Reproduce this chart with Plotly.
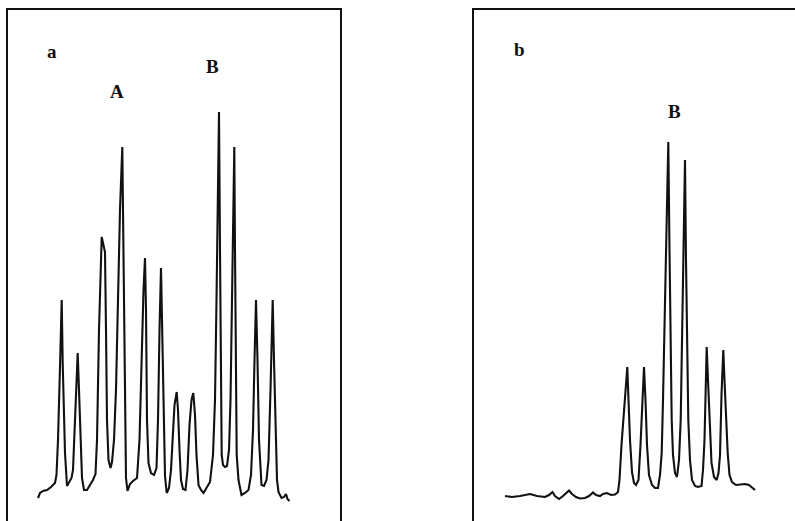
import plotly.graph_objects as go

# Panel a chromatogram (x: chart distance, y: detector response)
a_x = [30, 32, 35, 39, 43, 47, 48.5, 50, 52, 53.7, 54.7, 56, 57, 59, 61, 63.5, 65, 67, 68.5, 69.7,
       71, 72.5, 74, 76, 79, 82, 85, 87.5, 89, 91, 93.7, 95, 97, 98, 99, 100.5, 102.5, 104, 106, 108,
       110, 112, 114.3, 115.5, 116.5, 118, 119.5, 122, 125, 129, 131.5, 133.5, 135.5, 137, 138, 139,
       140.5, 143, 146, 148.5, 150, 151.5, 153, 154, 155.5, 157, 158.7, 161, 163, 164.5, 166.5, 168.7,
       170, 171.5, 173, 175, 177.5, 179.5, 181.5, 183.5, 185.3, 187, 188.5, 190.5, 193, 195.5, 198.5,
       202, 205, 207, 208.5, 210, 211, 212, 212.8, 213.7, 215, 217, 219, 221, 222.5, 224, 225.3, 226.3,
       227, 227.8, 228.7, 230.5, 233.5, 237, 240.5, 243, 245, 246.5, 248, 249.5, 251, 253.5, 256, 258.5,
       260.5, 262.5, 264.7, 266, 267.5, 269, 270.5, 273.5, 276, 278, 279.5, 281.5]
a_y = [-8, -3, -1, 0, 3, 7, 15, 50, 123, 190, 127, 70, 37, 4, 7, 12, 20, 70, 110, 137,
       100, 50, 12, 0, 0, 5, 10, 16, 50, 160, 253, 247, 238, 160, 70, 30, 22, 28, 50, 100,
       190, 280, 343, 240, 90, 12, -1, 6, 9, 12, 50, 130, 200, 232, 180, 70,
       27, 17, 15, 22, 70, 160, 222, 170, 70, 14, -3, 2, 20, 50, 85, 98,
       80, 40, 10, 1, 0, 20, 65, 90, 97, 75, 35, 5, 0, -3, 2,
       8, 35, 90, 190, 290, 378, 240, 110, 35, 25, 23, 24, 40, 90, 190, 280, 343,
       240, 110, 35, 10, -5, -3, 0, 15, 60, 130, 190, 130, 50, 5, 4, 10,
       30, 100, 190, 130, 50, 10, -2, -8, -7, -4, -9, -11]

# Panel b chromatogram
b_x = [31, 38, 46, 56, 63, 71, 75, 78.5, 81, 85, 89, 92, 95, 98, 102, 106, 111, 115, 119, 122,
       126, 129, 133, 137, 141, 144, 145.5, 147.5, 150, 151.5, 153.3, 154.5, 156, 158, 160, 162,
       164.5, 166.5, 168.5, 170, 171.5, 173, 175, 178, 181, 184, 186, 187.7, 189, 190, 191.5, 193,
       194.3, 195.5, 196.5, 197.7, 199, 201, 203, 205, 206.7, 208, 209.5, 211, 212, 213, 214.3, 216,
       218, 221, 224, 227.5, 229, 230.5, 231.5, 232.7, 234, 235.5, 237.5, 240, 242.7, 244.5, 246,
       247.5, 249.3, 250.5, 252, 253.7, 255.5, 258, 262, 266, 271, 275, 278, 281]
b_y = [-6, -7, -6, -4, -6, -7, -5, -2, -6, -9, -6, -3, -0.5, -4, -7, -8.5, -8, -6, -2.5, -5,
       -6, -4, -3, -5, -4.5, -2, 10, 45, 80, 100, 123, 90, 50, 18, 7, 5,
       10, 45, 90, 123, 90, 45, 15, 5, 2, 2, 15, 37, 90, 137, 220, 300,
       348, 240, 130, 70, 35, 17, 13, 30, 70, 140, 250, 330, 230, 130, 70, 30,
       10, 4, 3, 4, 20, 50, 100, 143, 110, 70, 27, 13, 10, 17, 35,
       95, 140, 110, 70, 37, 15, 8, 5, 5.5, 6, 5, 2.5, 0]

# Text labels
a_labels = ["a", "A", "B"]
a_label_x = [44, 109, 204]
a_label_y = [438, 398, 423]
b_labels = ["b", "B"]
b_label_x = [45, 200]
b_label_y = [440, 378]

W, H = 795, 521
line_style = dict(color="#111111", width=2.1)

fig = go.Figure()
fig.add_trace(go.Scatter(x=a_x, y=a_y, mode="lines", line=line_style, xaxis="x", yaxis="y",
                         showlegend=False, hoverinfo="skip"))
fig.add_trace(go.Scatter(x=b_x, y=b_y, mode="lines", line=line_style, xaxis="x2", yaxis="y2",
                         showlegend=False, hoverinfo="skip"))

font = dict(family="Liberation Serif, Times New Roman, serif", size=19, color="#111111")
annotations = []
for t, x, y in zip(a_labels, a_label_x, a_label_y):
    annotations.append(dict(text="<b>%s</b>" % t, x=x, y=y, xref="x", yref="y",
                            showarrow=False, font=font))
for t, x, y in zip(b_labels, b_label_x, b_label_y):
    annotations.append(dict(text="<b>%s</b>" % t, x=x, y=y, xref="x2", yref="y2",
                            showarrow=False, font=font))

top = 1 - 10 / H
axis_common = dict(showgrid=False, zeroline=False, ticks="", showticklabels=False,
                   showline=True, linecolor="#111111", linewidth=2, fixedrange=True)
fig.update_layout(
    width=W, height=H, margin=dict(l=0, r=0, t=0, b=0),
    paper_bgcolor="white", plot_bgcolor="white",
    xaxis=dict(domain=[8 / W, 340 / W], range=[0, 332], side="top", anchor="y", **axis_common),
    yaxis=dict(domain=[0, top], range=[-31, 480], mirror=True, anchor="x", **axis_common),
    xaxis2=dict(domain=[474 / W, 1], range=[0, 321], side="top", anchor="y2", **axis_common),
    yaxis2=dict(domain=[0, top], range=[-31, 480], anchor="x2", **axis_common),
    annotations=annotations,
)

fig.write_html("out.html", config={"displayModeBar": False},
               post_script="document.body.style.margin='0';document.body.style.overflow='hidden';")
